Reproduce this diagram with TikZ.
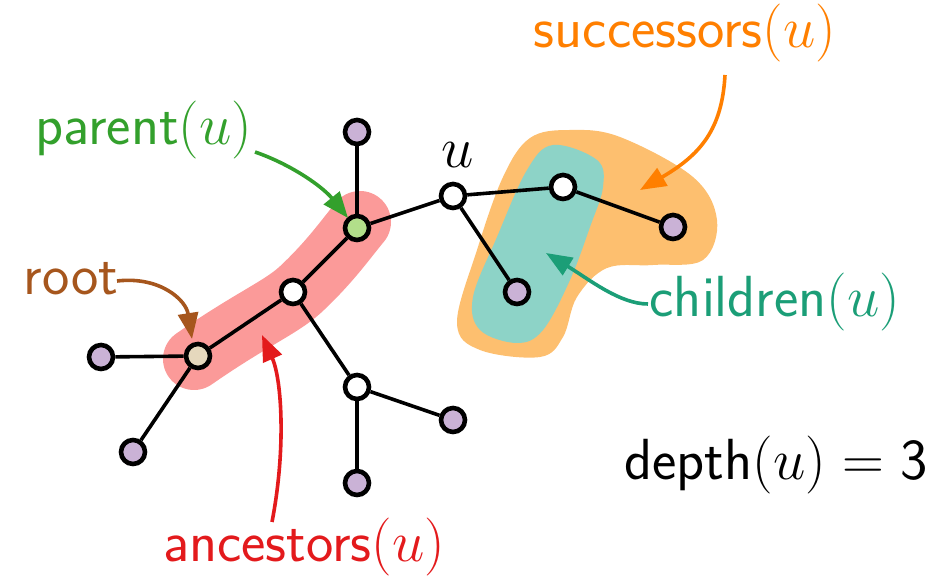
\RequirePackage{fix-cm}
\documentclass[tikz,border=0pt]{standalone}
\usepackage{fontspec}
\usetikzlibrary{arrows.meta}
\definecolor{cpink}{HTML}{FB9A99}
\definecolor{corangel}{HTML}{FDBF6F}
\definecolor{ctealL}{HTML}{8DD3C7}
\definecolor{cgreen}{HTML}{33A02C}
\definecolor{corange}{HTML}{FF7F00}
\definecolor{cred}{HTML}{E31A1C}
\definecolor{cteal}{HTML}{1B9E77}
\definecolor{cbrown}{HTML}{A6561D}
\definecolor{fgreen}{HTML}{B2DF8A}
\definecolor{fpurple}{HTML}{CAB2D6}
\definecolor{fbeige}{HTML}{E5D8BD}
\pgfdeclarelayer{bg}
\pgfsetlayers{bg,main}
\tikzset{
  vtx/.style={circle,draw=black,line width=2.3pt,minimum size=12pt,inner sep=0pt,fill=white},
  leaf/.style={vtx,fill=fpurple},
  edge/.style={line width=1.8pt},
  lbl/.style={font=\fontsize{29}{34}\selectfont\sffamily,anchor=base,inner sep=0pt},
  pointer/.style={line width=1.8pt,-{Triangle[length=13pt,width=10pt]}},
}
\begin{document}
\begin{tikzpicture}[x=0.5pt,y=-0.5pt]
\useasboundingbox (0,0) rectangle (943,576);
% nodes
\node[vtx,fill=fbeige] (root) at (198,356) {};
\node[leaf] (l1) at (101,357) {};
\node[leaf] (l2) at (133,452) {};
\node[vtx] (m) at (293,292) {};
\node[vtx,fill=fgreen] (p) at (357,228) {};
\node[leaf] (t) at (357,132) {};
\node[vtx] (u) at (453,196) {};
\node[vtx] (c1) at (563,187) {};
\node[leaf] (c1l) at (673,227) {};
\node[leaf] (c2) at (517,292) {};
\node[vtx] (b) at (357,387) {};
\node[leaf] (bl1) at (453,420) {};
\node[leaf] (bl2) at (357,483) {};
\begin{pgfonlayer}{bg}
% highlights
\draw[cpink,line width=31pt,line cap=round,line join=round]
  (194,359) .. controls (250,320) and (280,308) .. (300,290) .. controls (330,262) and (345,240) .. (360,222);
\fill[corangel] plot[smooth cycle,tension=0.6] coordinates {
  (530,138) (570,130) (620,137) (693,177) (717,220) (703,260) (653,265)
  (607,268) (577,297) (563,337) (540,357) (480,350) (457,323) (477,250) (503,177)};
\fill[ctealL] plot[smooth cycle,tension=0.6] coordinates {
  (553,145) (597,160) (603,187) (590,227) (570,280) (543,330) (517,343)
  (480,330) (473,297) (497,237) (527,170)};
% edges
\draw[edge] (root) -- (l1);
\draw[edge] (root) -- (l2);
\draw[edge] (root) -- (m);
\draw[edge] (m) -- (p);
\draw[edge] (p) -- (t);
\draw[edge] (p) -- (u);
\draw[edge] (u) -- (c1);
\draw[edge] (c1) -- (c1l);
\draw[edge] (u) -- (c2);
\draw[edge] (m) -- (b);
\draw[edge] (b) -- (bl1);
\draw[edge] (b) -- (bl2);
\end{pgfonlayer}
% labels
\node[font=\fontsize{29}{34}\selectfont,anchor=base,inner sep=0pt] (ul) at (458,168) {$u$};
\node[lbl,text=corange] (succ) at (685,48) {successors$(u)$};
\node[lbl,text=cgreen] (par) at (144,145) {parent$(u)$};
\node[lbl,text=cbrown] (rt) at (71,295) {root};
\node[lbl,text=cteal] (chi) at (775,317) {children$(u)$};
\node[lbl,text=black] (dep) at (776,480) {depth$(u) = \textsf{3}$};
\node[lbl,text=cred] (anc) at (304,562) {ancestors$(u)$};
% pointers
\coordinate (s0) at (725,75);   \coordinate (s1) at (640,190);
\coordinate (p0) at (255,152);  \coordinate (p1) at (348,218);
\coordinate (r0) at (117,281);  \coordinate (r1) at (192,339);
\coordinate (c0) at (648,304);  \coordinate (c1t) at (546,253);
\coordinate (a0) at (272,522);  \coordinate (a1) at (262,335);
\draw[pointer,corange] (s0) .. controls (722,130) and (700,155) .. (s1);
\draw[pointer,cgreen] (p0) .. controls (290,164) and (322,186) .. (p1);
\draw[pointer,cbrown] (r0) .. controls (160,276) and (186,300) .. (r1);
\draw[pointer,cteal] (c0) .. controls (620,304) and (590,280) .. (c1t);
\draw[pointer,cred] (a0) .. controls (286,450) and (282,380) .. (a1);
\end{tikzpicture}
\end{document}
